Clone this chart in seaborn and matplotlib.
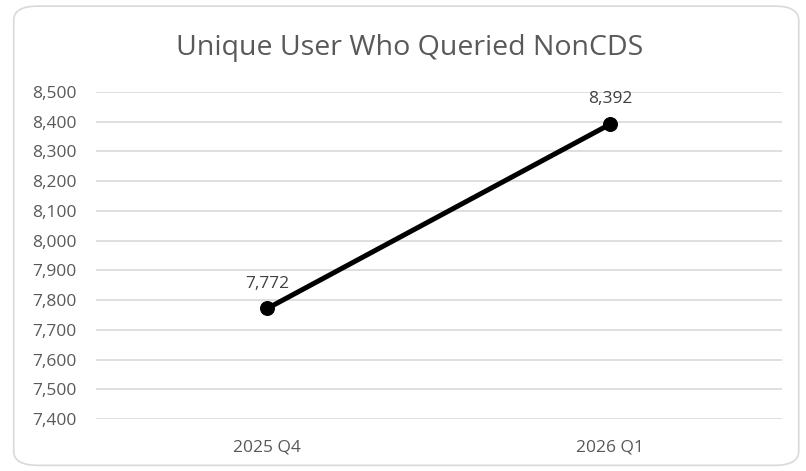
import matplotlib
matplotlib.use("Agg")
import matplotlib.pyplot as plt
import numpy as np
import pandas as pd
import seaborn as sns
from matplotlib.patches import FancyBboxPatch
from matplotlib.ticker import FuncFormatter

# Chart data
quarters = ["2025 Q4", "2026 Q1"]
users = [7772, 8392]
y_ticks = [7400, 7500, 7600, 7700, 7800, 7900, 8000, 8100, 8200, 8300, 8400, 8500]

sns.set_theme(style="white")
plt.rcParams["font.family"] = ["Open Sans", "DejaVu Sans"]

df = pd.DataFrame({"Quarter": quarters, "Users": users})

fig = plt.figure(figsize=(8.06, 4.71), dpi=100)
ax = fig.add_axes([0.119, 0.1104, 0.851, 0.6943])

# rounded outer border like the Excel chart frame
frame = FancyBboxPatch(
    (0.017, 0.012), 0.974, 0.975,
    boxstyle="round,pad=0,rounding_size=0.03",
    transform=fig.transFigure, facecolor="white",
    edgecolor="#d9d9d9", linewidth=1.2, zorder=-10,
)
fig.patches.append(frame)
fig.patch.set_facecolor("white")
ax.set_facecolor("none")

sns.lineplot(
    data=df, x="Quarter", y="Users", ax=ax, color="black",
    linewidth=3.6, marker="o", markersize=10, markeredgecolor="black",
    sort=False,
)

for i, v in enumerate(users):
    ax.annotate(f"{v:,}", (i, v), xytext=(0, 12), textcoords="offset points",
                ha="center", va="bottom", fontsize=12.5, color="#404040")

ax.set_xlim(-0.5, 1.5)
ax.set_ylim(7400, 8500)
ax.set_yticks(y_ticks)
ax.yaxis.set_major_formatter(FuncFormatter(lambda v, p: f"{int(v):,}"))
ax.grid(axis="y", color="#d9d9d9", linewidth=1.2)
ax.set_axisbelow(True)
for s in ax.spines.values():
    s.set_visible(False)
ax.tick_params(axis="both", length=0, labelsize=12.5, colors="#595959")
ax.tick_params(axis="y", pad=14)
ax.tick_params(axis="x", pad=15)
ax.set_xlabel("")
ax.set_ylabel("")

fig.text(0.508, 0.898, "Unique User Who Queried NonCDS", ha="center", va="center",
         fontsize=20.5, color="#595959")

fig.savefig("out.png", dpi=100)
